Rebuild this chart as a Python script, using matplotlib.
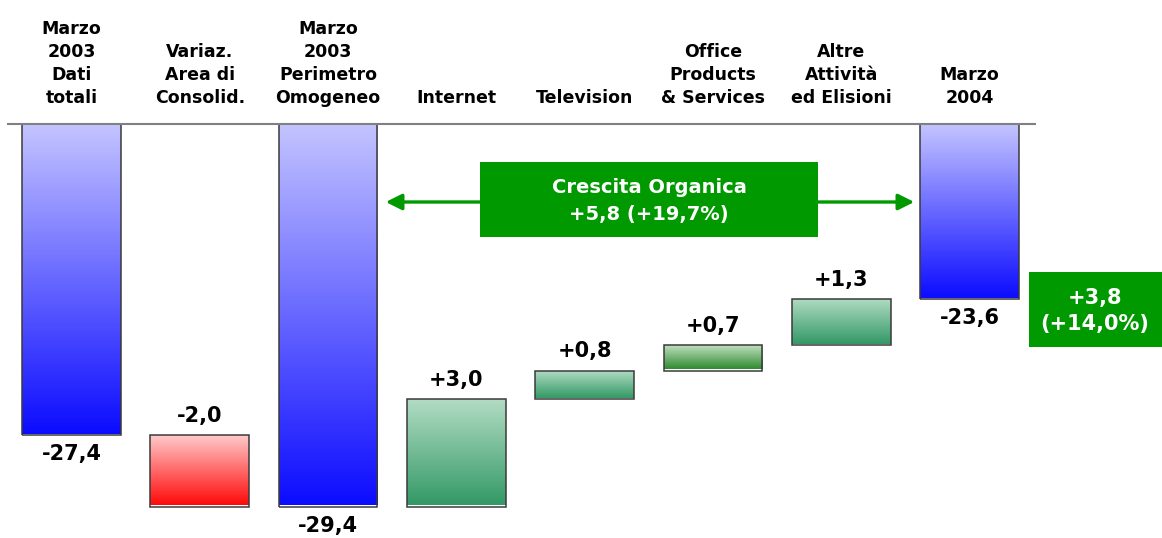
import numpy as np
import matplotlib
matplotlib.use('Agg')
import matplotlib.pyplot as plt
from matplotlib.colors import LinearSegmentedColormap
from matplotlib.patches import Rectangle, FancyArrowPatch

# ── Data ──────────────────────────────────────────────────────────────────────
categories = ['Marzo\n2003\nDati\ntotali', 'Variaz.\nArea di\nConsolid.',
              'Marzo\n2003\nPerimetro\nOmogeneo', 'Internet', 'Television',
              'Office\nProducts\n& Services', 'Altre\nAttività\ned Elisioni',
              'Marzo\n2004']
values = [-27.4, -2.0, -29.4, 3.0, 0.8, 0.7, 1.3, -23.6]
is_total = [True, False, True, False, False, False, False, True]
value_labels = ['-27,4', '-2,0', '-29,4', '+3,0', '+0,8', '+0,7', '+1,3', '-23,6']
organic_text = 'Crescita Organica\n+5,8 (+19,7%)'
total_change_text = '+3,8\n(+14,0%)'

# ── Style ─────────────────────────────────────────────────────────────────────
GREEN = '#009900'
GRADIENTS = {
    'total': ('#c4c4ff', '#0c0cff'),
    'neg':   ('#ffcccc', '#ff0a0a'),
    'pos':   ('#b2dcc4', '#339966'),
    'pos_b': ('#bfe0bf', '#2f8a2f'),
}
grad_key = ['total', 'neg', 'total', 'pos', 'pos', 'pos_b', 'pos', 'total']

plt.rcParams['font.family'] = 'DejaVu Sans'

W, H = 1162, 538
fig = plt.figure(figsize=(W / 100, H / 100), dpi=100)
base_px = 124
ax = fig.add_axes([0, 0, 1, (H - base_px) / H])
XLIM = (-0.557, 8.50)
YLIM = (-30.28, -18.71)
ax.set_xlim(*XLIM)
ax.set_ylim(*YLIM)
ax.axis('off')

bar_w = 0.77
running = 0.0
grad = np.linspace(0, 1, 256).reshape(-1, 1)
for i, (v, tot) in enumerate(zip(values, is_total)):
    if tot:
        bottom, top = v, 0.0
        running = v
    else:
        start = running
        running = start + v
        bottom, top = min(start, running), max(start, running)
    c_top, c_bot = GRADIENTS[grad_key[i]]
    cmap = LinearSegmentedColormap.from_list(f'g{i}', [c_top, c_bot])
    vis_top = min(top, YLIM[1])
    rect = Rectangle((i - bar_w / 2, bottom), bar_w, top - bottom,
                     facecolor='none', edgecolor='#3a3a3a', linewidth=1.1,
                     zorder=3)
    ax.add_patch(rect)
    im = ax.imshow(grad, cmap=cmap, aspect='auto', zorder=2,
                   extent=[i - bar_w / 2, i + bar_w / 2, bottom + 0.04, vis_top])
    im.set_clip_path(rect)

    # value label: below totals, above the floating steps
    if tot:
        ax.annotate(value_labels[i], (i, bottom), xytext=(0, -14),
                    textcoords='offset points', ha='center', va='center',
                    fontsize=15, fontweight='bold')
    else:
        ax.annotate(value_labels[i], (i, top), xytext=(0, 14),
                    textcoords='offset points', ha='center', va='center',
                    fontsize=15, fontweight='bold')

    # category label above the baseline
    ax.annotate(categories[i], (i, YLIM[1]), xytext=(0, 15),
                textcoords='offset points', ha='center', va='baseline',
                fontsize=12.5, fontweight='bold', linespacing=1.36,
                annotation_clip=False)

ax.set_xlim(*XLIM)
ax.set_ylim(*YLIM)

# baseline
fig.add_artist(plt.Line2D([8 / W, 1035 / W], [1 - base_px / H] * 2,
                          color='#808080', linewidth=1.5, zorder=5))

# organic growth arrow and box
arrow = FancyArrowPatch((383 / W, 1 - 202 / H), (917 / W, 1 - 202 / H),
                        transform=fig.transFigure, arrowstyle='<|-|>',
                        mutation_scale=24, color=GREEN, linewidth=2.4)
fig.add_artist(arrow)
fig.add_artist(Rectangle((480 / W, 1 - 237 / H), 338 / W, 75 / H,
                         transform=fig.transFigure, facecolor=GREEN,
                         edgecolor='none', zorder=6))
fig.text(649 / W, 1 - 201 / H, organic_text, ha='center', va='center',
         color='white', fontsize=14, fontweight='bold', linespacing=1.5,
         zorder=7)

# overall change box
fig.add_artist(Rectangle((1029 / W, 1 - 347 / H), 133 / W, 75 / H,
                         transform=fig.transFigure, facecolor=GREEN,
                         edgecolor='none', zorder=6))
fig.text(1095 / W, 1 - 311 / H, total_change_text, ha='center', va='center',
         color='white', fontsize=15, fontweight='bold', linespacing=1.35,
         zorder=7)

fig.savefig('out.png', dpi=100)
